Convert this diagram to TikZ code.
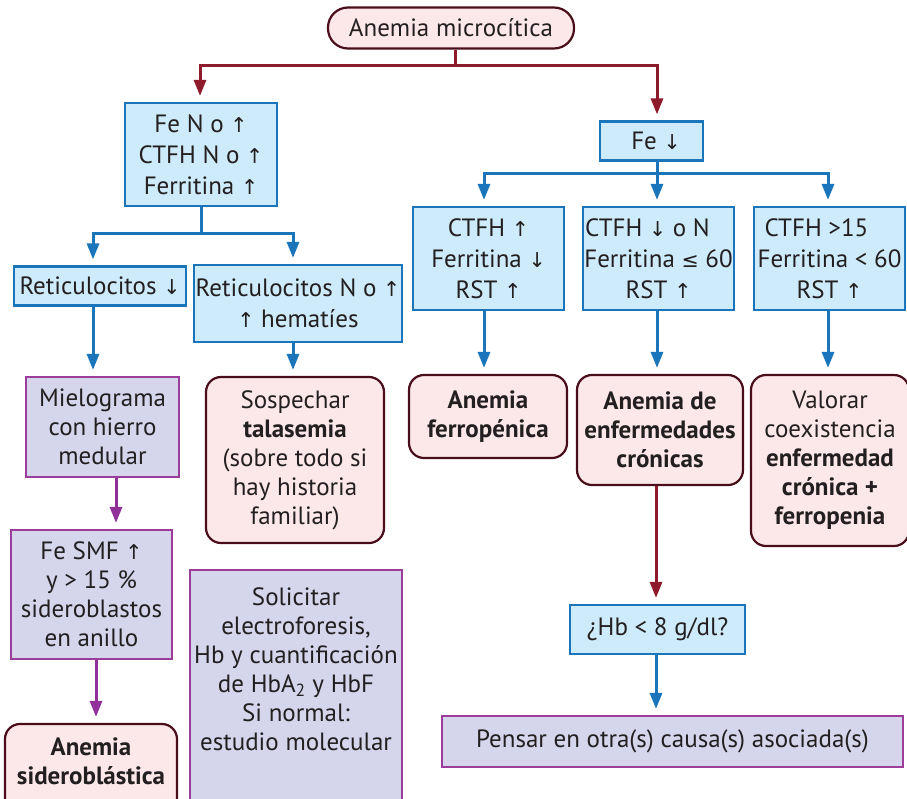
\documentclass[tikz,border=0pt]{standalone}
\usepackage{fontspec}
\setmainfont{PT Sans}
\newfontfamily\symf[Scale=0.82]{DejaVu Sans}
\usetikzlibrary{arrows.meta}
\newcommand{\UA}{{\symf ↑}}
\newcommand{\DA}{{\symf ↓}}
\newcommand{\LEQ}{{\symf ≤}}
\definecolor{cblue}{HTML}{1B75BB}
\definecolor{cbluef}{HTML}{CDEBFA}
\definecolor{cpinkd}{HTML}{4A0E1A}
\definecolor{cpinkf}{HTML}{FDE8E9}
\definecolor{cpurp}{HTML}{9C3D9C}
\definecolor{clavf}{HTML}{D5D6EC}
\definecolor{cmar}{HTML}{8E1B2C}
\definecolor{cpurl}{HTML}{92309A}
\definecolor{ctext}{HTML}{231F20}
\tikzset{
  base/.style={align=center, inner sep=0pt, text=ctext, line width=2.2pt,
    font=\fontsize{25}{29}\selectfont},
  bluebox/.style={base, draw=cblue, fill=cbluef, font=\fontsize{25}{31}\selectfont},
  pinkbox/.style={base, draw=cpinkd, fill=cpinkf, rounded corners=15pt},
  lavbox/.style={base, draw=cpurp, fill=clavf},
  txt/.style={align=center, inner sep=0pt, text=ctext, font=\fontsize{25}{29}\selectfont},
  boldtxt/.style={font=\bfseries\fontsize{25}{29}\selectfont},
  tip/.style={-{Triangle[length=16pt,width=12pt]}, shorten >=6pt},
  mline/.style={draw=cmar, line width=3pt},
  bline/.style={draw=cblue, line width=3pt},
  pline/.style={draw=cpurl, line width=3pt},
}
\begin{document}
\begin{tikzpicture}[x=1pt,y=-1pt]
\useasboundingbox (0,0) rectangle (907,798);
% nodes
\node[pinkbox, rounded corners=20pt, minimum width=246pt, minimum height=41pt] (top) at (451,28) {Anemia microcítica};
\node[bluebox, minimum width=152pt, minimum height=103pt] (fe1) at (201,154.5) {Fe N o \UA\\CTFH N o \UA\\Ferritina \UA};
\node[bluebox, minimum width=172pt, minimum height=39pt] (ret1) at (100,286) {Reticulocitos \DA};
\node[bluebox, minimum width=208pt, minimum height=77pt] (ret2) at (298,303.5) {Reticulocitos N o \UA\\\UA{} hematíes};
\node[bluebox, minimum width=103pt, minimum height=39pt] (fe2) at (651.5,141) {\hspace*{9pt}Fe \DA};
\node[bluebox, minimum width=151pt, minimum height=103pt] (c1) at (488.5,258.5) {CTFH \UA\\Ferritina \DA\\RST \UA};
\node[bluebox, minimum width=151pt, minimum height=103pt] (c2) at (658.5,258.5) {CTFH \DA{} o N\hspace*{22pt}\\Ferritina \LEQ{} 60\\RST \UA};
\node[bluebox, minimum width=151pt, minimum height=103pt] (c3) at (829.5,258.5) {CTFH >15\hspace*{26pt}\\Ferritina < 60\\RST \UA};
\node[lavbox, minimum width=153pt, minimum height=100pt] (mielo) at (102.5,427) {Mielograma\\con hierro\\medular};
\node[lavbox, minimum width=161pt, minimum height=129pt] (fesmf) at (91.5,594.5) {Fe SMF \UA\\y > 15 \%\\sideroblastos\\en anillo};
\node[pinkbox, minimum width=172pt, minimum height=92pt] (sider) at (91,770) {};
\node[txt, boldtxt] (sidertxt) at (91,761) {Anemia\\sideroblástica};
\node[pinkbox, minimum width=178pt, minimum height=166pt] (sosp) at (295,460) {Sospechar\\\textbf{talasemia}\\(sobre todo si\\hay historia\\familiar)};
\node[lavbox, minimum width=212pt, minimum height=246pt] (sol) at (296,693) {};
\node[txt] (soltxt) at (296,669.5) {Solicitar\\electroforesis,\\Hb y cuantificación\\de HbA\textsubscript{2} y HbF\\Si normal:\\estudio molecular};
\node[pinkbox, boldtxt, minimum width=158pt, minimum height=83pt] (ferro) at (488,416.5) {Anemia\\ferropénica};
\node[pinkbox, boldtxt, minimum width=166pt, minimum height=110pt] (cron) at (660,430) {Anemia de\\enfermedades\\crónicas};
\node[pinkbox, minimum width=158pt, minimum height=171pt] (valor) at (830,460.5) {Valorar\\coexistencia\\\textbf{enfermedad}\\\textbf{crónica +}\\\textbf{ferropenia}};
\node[bluebox, minimum width=175pt, minimum height=49pt] (hb) at (657.5,629.5) {¿Hb < 8 g/dl?};
\node[lavbox, minimum width=461pt, minimum height=51pt] (pensar) at (672.5,741.5) {Pensar en otra(s) causa(s) asociada(s)};
% connectors
\draw[mline] ([xshift=4pt]top.south) -- ++(0,16) coordinate (j0);
\draw[mline, tip] (j0) -| ([xshift=-1pt]fe1.north);
\draw[mline, tip] (j0) -| ([xshift=5.5pt]fe2.north);
\draw[bline] (fe1.south) -- ++(0,26) coordinate (j1);
\draw[bline, tip] (j1) -| ([xshift=-7pt]ret1.north);
\draw[bline, tip] (j1) -| ([xshift=-5pt]ret2.north);
\draw[bline] ([xshift=5.5pt]fe2.south) -- ++(0,12) coordinate (j2);
\draw[bline, tip] (j2) -| ([xshift=-4.5pt]c1.north);
\draw[bline, tip] (j2) -- ([xshift=-1.5pt]c2.north);
\draw[bline, tip] (j2) -| ([xshift=-1.5pt]c3.north);
\draw[bline, tip] ([xshift=-7pt]ret1.south) -- ([xshift=-9.5pt]mielo.north);
\draw[bline, tip] ([xshift=-5pt]ret2.south) -- ([xshift=-2pt]sosp.north);
\draw[bline, tip] ([xshift=-4.5pt]c1.south) -- ([xshift=-4pt]ferro.north);
\draw[bline, tip] ([xshift=-1.5pt]c2.south) -- ([xshift=-3pt]cron.north);
\draw[bline, tip] ([xshift=-1.5pt]c3.south) -- ([xshift=-2pt]valor.north);
\draw[pline, tip] ([xshift=13.5pt]mielo.south) -- ([xshift=24.5pt]fesmf.north);
\draw[pline, tip] ([xshift=4.5pt]fesmf.south) -- ([xshift=5pt]sider.north);
\draw[mline, tip] ([xshift=-4pt]cron.south) -- ([xshift=-1.5pt]hb.north);
\draw[bline, tip] ([xshift=-1.5pt]hb.south) -- ([xshift=-16.5pt]pensar.north);
\end{tikzpicture}
\end{document}
